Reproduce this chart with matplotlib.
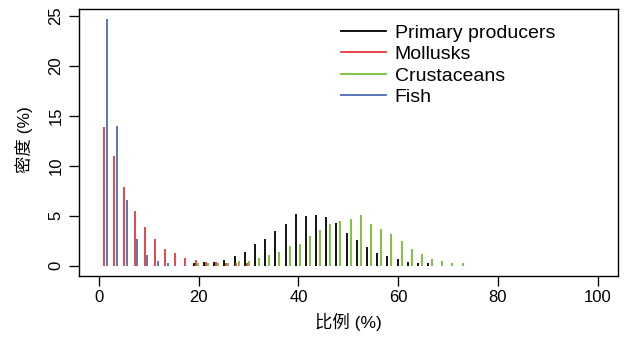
import numpy as np
import matplotlib
matplotlib.use("Agg")
import matplotlib.pyplot as plt

plt.rcParams['font.family'] = ['Liberation Sans', 'Noto Sans CJK SC', 'DejaVu Sans']

# bin index k -> bin centre (49 bins of equal width over 0..100)
n_bins = 49
bin_width = 100 / n_bins

series_names = ["Primary producers", "Mollusks", "Crustaceans", "Fish"]
series_colors = ["#000000", "#E2393B", "#72BF2F", "#4C6CB3"]
series_shift = [-0.34, 0.0, 0.46, 0.54]  # horizontal dodge within a bin

# Primary producers: starting at bin 9
producers_start = 9
producers = [0.27, 0.37, 0.37, 0.57, 0.93, 1.4, 2.2, 2.67, 3.47, 4.17, 5.17, 4.97,
             5.07, 4.84, 4.27, 3.27, 2.54, 1.87, 1.27, 0.93, 0.7, 0.37, 0.27, 0.27]
# Mollusks: starting at bin 0
mollusks_start = 0
mollusks = [13.9, 11.0, 7.9, 5.5, 3.9, 2.7, 1.7, 1.3, 0.8, 0.57, 0.37, 0.37, 0.27,
            0.27, 0.27]
# Crustaceans: starting at bin 9
crustaceans_start = 9
crustaceans = [0.24, 0.27, 0.27, 0.27, 0.47, 0.47, 0.8, 1.04, 1.4, 1.97, 2.2, 2.97,
               3.57, 4.17, 4.47, 4.7, 5.07, 4.17, 3.67, 3.14, 2.44, 1.64, 1.17, 0.67,
               0.47, 0.27, 0.27]
# Fish: starting at bin 0
fish_start = 0
fish = [24.65, 14.0, 6.54, 2.67, 1.04, 0.47, 0.27]

xticks = [0, 20, 40, 60, 80, 100]
yticks = [0, 5, 10, 15, 20, 25]
xlabel = "比例 (%)"
ylabel = "密度 (%)"

W, H = 629, 339
fig = plt.figure(figsize=(W / 100, H / 100), dpi=100)
L, R, T, B = 79, 617.7, 9.3, 276
ax = fig.add_axes([L / W, 1 - B / H, (R - L) / W, (B - T) / H])

all_series = [(producers_start, producers), (mollusks_start, mollusks),
              (crustaceans_start, crustaceans), (fish_start, fish)]
handles = []
for (start, vals), name, col, sh in zip(all_series, series_names, series_colors, series_shift):
    k = np.arange(start, start + len(vals))
    x = (k + 0.5) * bin_width + sh
    ax.vlines(x, 0, vals, colors=col, linewidth=1.3)
    h, = ax.plot([], [], color=col, linewidth=1.3, label=name)
    handles.append(h)

ax.set_xlim(-4, 104)
ax.set_ylim(-1.03, 25.64)
ax.set_xticks(xticks)
ax.set_yticks(yticks)
ax.set_xticklabels([str(v) for v in xticks], fontsize=12)
ax.set_yticklabels([str(v) for v in yticks], fontsize=12, rotation=90, va='center')
ax.tick_params(direction='out', length=7.2, width=0.95, color='black')
ax.tick_params(axis='x', pad=3)
ax.tick_params(axis='y', pad=4)
for s in ax.spines.values():
    s.set_linewidth(1.0)
    s.set_color('black')

fig.text((L + R) / 2 / W, 1 - 322 / H, xlabel, ha='center', va='center', fontsize=12.5)
fig.text(24 / W, 1 - 140 / H, ylabel, ha='center', va='center', fontsize=12.5, rotation=90)

leg = ax.legend(handles=handles, loc='upper left', bbox_to_anchor=(341 / W, 1 - 24 / H),
                bbox_transform=fig.transFigure, frameon=False, fontsize=14,
                handlelength=2.3, handletextpad=0.46, labelspacing=0.2,
                borderaxespad=0, borderpad=0)

fig.savefig("out.png", dpi=100)
